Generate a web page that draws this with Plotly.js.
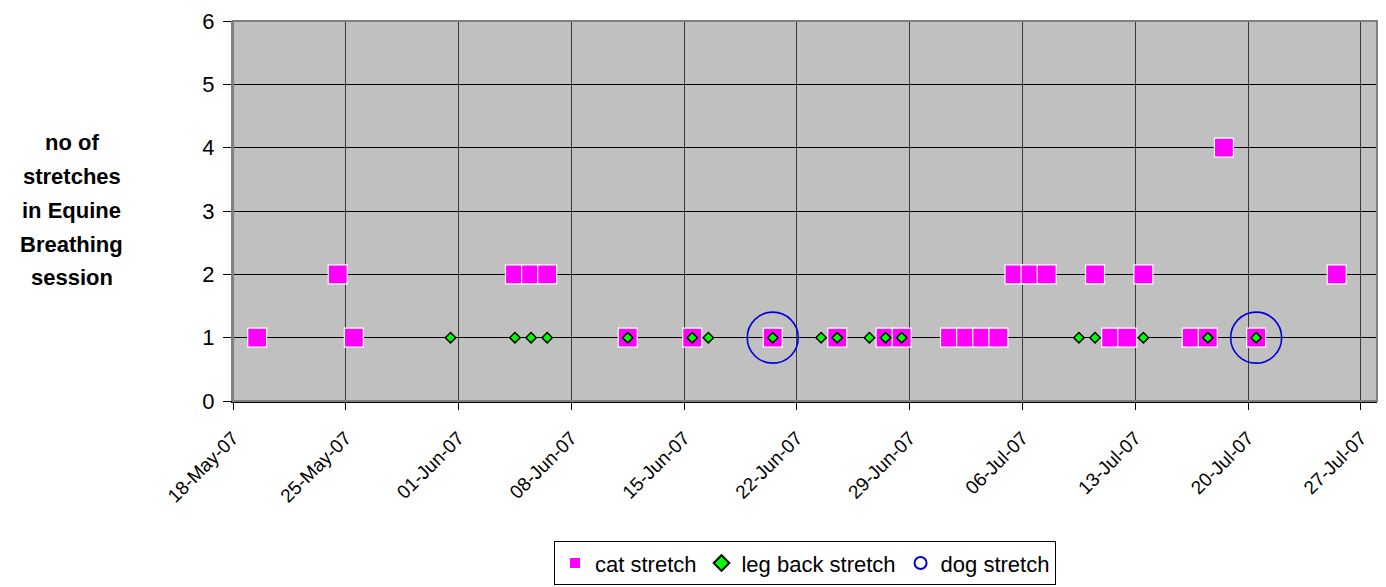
<!DOCTYPE html>
<html>
<head>
<meta charset="utf-8">
<script src="https://cdn.plot.ly/plotly-3.0.1.min.js"></script>
<style>html,body{margin:0;padding:0;background:#fff;}#chart{width:1386px;height:587px;}</style>
</head>
<body>
<div id="chart"></div>
<script>
// Data
const catDates = ['2007-05-19','2007-05-24','2007-05-25','2007-06-04','2007-06-05','2007-06-06','2007-06-11','2007-06-15','2007-06-20','2007-06-24','2007-06-27','2007-06-28','2007-07-01','2007-07-02','2007-07-03','2007-07-04','2007-07-05','2007-07-06','2007-07-07','2007-07-10','2007-07-11','2007-07-12','2007-07-13','2007-07-16','2007-07-17','2007-07-18','2007-07-20','2007-07-25'];
const catValues = [1,2,1,2,2,2,1,1,1,1,1,1,1,1,1,1,2,2,2,2,1,1,2,1,1,4,1,2];
const legDates = ['2007-05-31','2007-06-04','2007-06-05','2007-06-06','2007-06-11','2007-06-15','2007-06-16','2007-06-20','2007-06-23','2007-06-24','2007-06-26','2007-06-27','2007-06-28','2007-07-09','2007-07-10','2007-07-13','2007-07-17','2007-07-20'];
const legValues = [1,1,1,1,1,1,1,1,1,1,1,1,1,1,1,1,1,1];
const dogDates = ['2007-06-20','2007-07-20'];
const dogValues = [1,1];
const seriesNames = ['cat stretch','leg back stretch','dog stretch'];
const yTitleLines = ['no of','stretches','in Equine','Breathing','session'];

// Points sit in the middle of each day on the date axis
const mid = d => d + ' 12:00';

const traces = [
  {x: catDates.map(mid), y: catValues, name: seriesNames[0], type: 'scatter', mode: 'markers',
   marker: {symbol: 'square', size: 19, color: '#ff00ff', line: {color: '#ffffff', width: 1.2}}},
  {x: legDates.map(mid), y: legValues, name: seriesNames[1], type: 'scatter', mode: 'markers',
   marker: {symbol: 'diamond', size: 8, color: '#00ff00', line: {color: '#000000', width: 1.5}}},
  {x: dogDates.map(mid), y: dogValues, name: seriesNames[2], type: 'scatter', mode: 'markers',
   marker: {symbol: 'circle-open', size: 51, color: '#0000dd', line: {color: '#0022dd', width: 1.6}}}
];

const annotations = yTitleLines.map((t, i) => ({
  text: '<b>' + t + '</b>', xref: 'paper', yref: 'paper', x: -0.141, xanchor: 'center',
  y: 1 - (0.32 + i * 0.089), yanchor: 'middle', showarrow: false,
  font: {family: 'Arial, Liberation Sans, sans-serif', size: 22, color: '#000'}
}));

const layout = {
  width: 1386, height: 587,
  margin: {l: 233, r: 9, t: 21, b: 186},
  paper_bgcolor: '#ffffff', plot_bgcolor: '#c0c0c0',
  font: {family: 'Arial, Liberation Sans, sans-serif', color: '#000'},
  showlegend: true,
  legend: {orientation: 'h', x: 0.5, xanchor: 'center', yref: 'container', y: 0.003, yanchor: 'bottom',
    bordercolor: '#000', borderwidth: 1, bgcolor: '#fff',
    font: {size: 22, family: 'Arial, Liberation Sans, sans-serif'}, itemsizing: 'constant', itemwidth: 20, tracegroupgap: 0},
  xaxis: {
    type: 'date', range: ['2007-05-18', '2007-07-28'],
    tick0: '2007-05-18', dtick: 7 * 86400000, tickformat: '%d-%b-%y',
    tickangle: -45, tickfont: {size: 19}, ticklabelstandoff: 10,
    showgrid: true, gridcolor: '#3a3a3a', gridwidth: 1,
    ticks: 'outside', ticklen: 7, tickcolor: '#000',
    showline: true, linecolor: '#000', linewidth: 1.5, mirror: false, zeroline: false
  },
  yaxis: {
    range: [0, 6], dtick: 1, tick0: 0, tickfont: {size: 22}, ticklabelstandoff: 4,
    showgrid: true, gridcolor: '#000', gridwidth: 1,
    ticks: 'outside', ticklen: 8, tickcolor: '#000',
    showline: true, linecolor: '#808080', linewidth: 2, zeroline: false
  },
  shapes: [
    {type: 'rect', xref: 'paper', yref: 'paper', x0: 0, x1: 1, y0: 0, y1: 1,
     line: {color: '#808080', width: 2}, fillcolor: 'rgba(0,0,0,0)', layer: 'above'}
  ],
  annotations: annotations
};

Plotly.newPlot('chart', traces, layout, {displayModeBar: false, staticPlot: true});
</script>
</body>
</html>
